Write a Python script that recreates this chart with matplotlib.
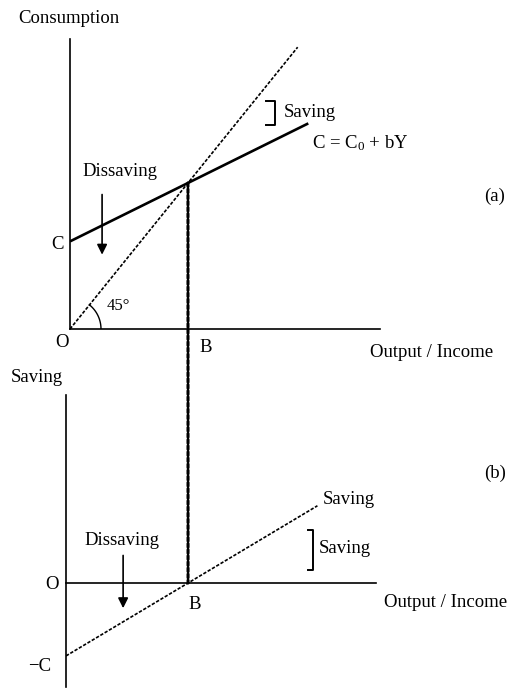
#!/usr/bin/env python3
import numpy as np
import matplotlib as mpl
mpl.use("Agg")
import matplotlib.pyplot as plt
from matplotlib.patches import ConnectionPatch


# Keynesian consumption / saving diagram values
C0 = 3.0
B_INCOME = 5.0                      # break-even income (point B)
consumption_x = [0.0, 10.1]
consumption_y = [3.0, 7.04]         # C = C0 + bY, b = 0.4
line45_x = [0.0, 9.65]
line45_y = [0.0, 9.65]
saving_x = [0.0, 10.3]
saving_y = [-3.0, 3.18]             # S = -C0 + (1 - b)Y

FS = 13.5


def style_axes(ax):
    for side in ("top", "right"):
        ax.spines[side].set_visible(False)
    for side in ("left", "bottom"):
        ax.spines[side].set_linewidth(1.2)
    ax.set_xticks([])
    ax.set_yticks([])
    ax.patch.set_alpha(0)


def bracket(ax, x, x_tick, y0, y1):
    ax.plot([x_tick, x, x, x_tick], [y0, y0, y1, y1], color="black", lw=1.4,
            clip_on=False)


def main():
    mpl.rcParams.update({
        "font.family": ["Liberation Serif", "DejaVu Serif"],
        "mathtext.fontset": "custom",
        "mathtext.rm": "Liberation Serif",
        "mathtext.it": "Liberation Serif",
    })
    fig = plt.figure(figsize=(5.2, 6.9), dpi=100)
    fig.patch.set_facecolor("white")

    # (a) consumption panel
    ax = fig.add_axes([70 / 520, 361 / 690, 310 / 520, 290 / 690])
    ax.set_xlim(0, 13.14)
    ax.set_ylim(0, 9.93)
    style_axes(ax)
    ax.plot(consumption_x, consumption_y, color="black", lw=1.9,
            solid_capstyle="butt")
    ax.plot(line45_x, line45_y, color="black", lw=1.2, dashes=(2, 1))

    # 45 degree arc, radius in pixels mapped into data units
    ang = np.arctan2(29.2, 23.6)
    t = np.linspace(0, ang, 40)
    ax.plot(31 * np.cos(t) / 23.6, 31 * np.sin(t) / 29.2, color="black", lw=1.0)
    ax.text(1.55, 0.8, "45°", fontsize=FS - 1.5, va="center")

    ax.text(-0.05, 10.62, "Consumption", fontsize=FS, ha="center",
            va="center", clip_on=False)
    ax.text(2.12, 5.38, "Dissaving", fontsize=FS, ha="center", va="center")
    ax.annotate("", xy=(1.36, 2.45), xytext=(1.36, 4.7),
                arrowprops=dict(arrowstyle="-|>", color="black", lw=1.2,
                                mutation_scale=15))
    ax.text(-0.55, 2.91, "C", fontsize=FS, ha="center", va="center")
    ax.text(-0.34, -0.45, "O", fontsize=FS, ha="center", va="center")
    ax.text(5.76, -0.62, "B", fontsize=FS, ha="center", va="center")
    bracket(ax, 8.69, 8.31, 7.81, 6.99)
    ax.text(9.07, 7.43, "Saving", fontsize=FS, ha="left", va="center")
    ax.text(10.25, 6.37, r"C = C$_0$ + bY", fontsize=FS, ha="left",
            va="center", clip_on=False)
    ax.text(17.99, 4.55, "(a)", fontsize=FS, ha="center", va="center",
            clip_on=False)
    ax.text(15.34, -0.79, "Output / Income", fontsize=FS, ha="center",
            va="center", clip_on=False)

    # (b) saving panel
    ax2 = fig.add_axes([66 / 520, 3 / 690, 310 / 520, 292 / 690])
    ax2.set_xlim(0, 12.70)
    ax2.set_ylim(-4.28, 7.74)
    style_axes(ax2)
    ax2.spines["bottom"].set_position(("data", 0))
    ax2.plot(saving_x, saving_y, color="black", lw=1.2, dashes=(2, 1))

    ax2.text(-1.19, 8.44, "Saving", fontsize=FS, ha="center", va="center",
             clip_on=False)
    ax2.text(-0.57, -0.08, "O", fontsize=FS, ha="center", va="center")
    ax2.text(5.29, -0.9, "B", fontsize=FS, ha="center", va="center")
    ax2.text(-1.07, -3.42, "−C", fontsize=FS, ha="center", va="center",
             clip_on=False)
    ax2.text(2.30, 1.77, "Dissaving", fontsize=FS, ha="center", va="center")
    ax2.annotate("", xy=(2.34, -1.15), xytext=(2.34, 1.25),
                 arrowprops=dict(arrowstyle="-|>", color="black", lw=1.2,
                                 mutation_scale=15))
    ax2.text(10.53, 3.42, "Saving", fontsize=FS, ha="left", va="center",
             clip_on=False)
    bracket(ax2, 10.12, 9.92, 2.18, 0.53)
    ax2.text(10.37, 1.44, "Saving", fontsize=FS, ha="left", va="center",
             clip_on=False)
    ax2.text(17.58, 4.53, "(b)", fontsize=FS, ha="center", va="center",
             clip_on=False)
    ax2.text(15.57, -0.82, "Output / Income", fontsize=FS, ha="center",
             va="center", clip_on=False)

    # dotted link from the break-even point down to B on the saving panel
    con = ConnectionPatch(xyA=(B_INCOME, B_INCOME), coordsA=ax.transData,
                          xyB=(B_INCOME, 0), coordsB=ax2.transData,
                          color="black", lw=2.2)
    con.set_linestyle((0, (1.2, 0.8)))
    fig.add_artist(con)

    fig.savefig("out.png", dpi=100, facecolor="white")
    plt.close(fig)


if __name__ == "__main__":
    main()
